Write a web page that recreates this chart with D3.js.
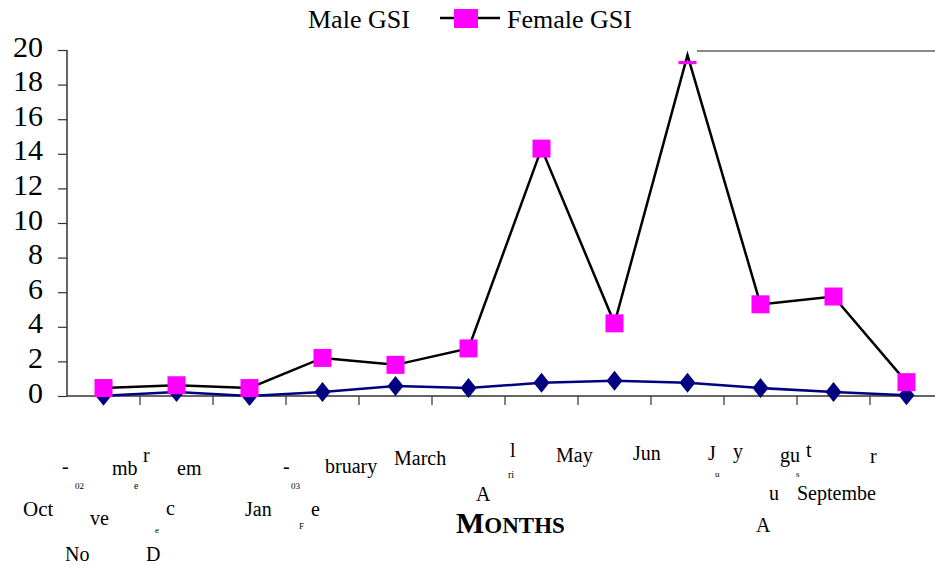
<!DOCTYPE html>
<html>
<head>
<meta charset="utf-8">
<script src="https://cdn.jsdelivr.net/npm/d3@7"></script>
<style>
  body { margin: 0; background: #fff; }
  svg text { font-family: "Liberation Serif", "Times New Roman", serif; fill: #000; }
</style>
</head>
<body>
<svg width="935" height="565"></svg>
<script>
const months = ['Oct-02', 'Nov', 'Dec', 'Jan-03', 'Feb', 'March', 'April', 'May', 'June', 'July', 'August', 'September'];
const maleGSI = [0.02, 0.23, 0.0, 0.23, 0.58, 0.46, 0.77, 0.88, 0.77, 0.46, 0.23, 0.05];
const femaleGSI = [0.46, 0.62, 0.46, 2.2, 1.8, 2.75, 14.3, 4.2, 19.7, 5.3, 5.75, 0.8];
const yTicks = [0, 2, 4, 6, 8, 10, 12, 14, 16, 18, 20];

// the month labels come out broken into pieces in the original, keep them that way
const labelBits = [
  ['-', 62, 473, 20], ['02', 75, 489, 9], ['mb', 112, 475, 20], ['r', 143, 462, 20], ['e', 134, 489, 10],
  ['em', 177, 475, 20], ['-', 283, 473, 20], ['03', 291, 489, 9],
  ['Oct', 23, 516, 21], ['ve', 90, 525, 20], ['e', 155, 533, 9], ['c', 166, 515, 20],
  ['Jan', 245, 516, 20], ['F', 299, 529, 9], ['e', 311, 516, 20], ['No', 65, 561, 20], ['D', 146, 561, 20],
  ['bruary', 325, 473, 20], ['March', 394, 465, 20], ['l', 510, 457, 20], ['ri', 508, 478, 10],
  ['May', 556, 462, 20], ['A', 476, 501, 20],
  ['Jun', 633, 460, 20], ['J', 708, 460, 20], ['u', 715, 477, 9], ['y', 733, 458, 20],
  ['gu', 780, 462, 20], ['t', 806, 457, 20], ['s', 796, 477, 9], ['r', 870, 463, 20],
  ['u', 769, 500, 20], ['Septembe', 797, 500, 20], ['A', 756, 532, 20]
];

const svg = d3.select('svg');
const margin = { left: 67, top: 50, bottom: 396 };

const x = d3.scaleBand().domain(months).range([margin.left, margin.left + 12 * 73]);
const y = d3.scaleLinear().domain([0, 20]).range([margin.bottom, margin.top]);
const cx = d => x(d) + x.bandwidth() / 2;

// plot area top border (only part of it shows)
svg.append('line')
  .attr('x1', 697).attr('x2', 935).attr('y1', y(20) + 1).attr('y2', y(20) + 1)
  .attr('stroke', '#888').attr('stroke-width', 2);

// y axis
const yAxis = svg.append('g')
  .attr('transform', `translate(${margin.left},0)`)
  .call(d3.axisLeft(y).tickValues(yTicks).tickSize(9).tickPadding(15))
  .attr('font-family', '"Liberation Serif", serif');
yAxis.select('.domain').attr('stroke', '#333').attr('stroke-width', 1.5).attr('d', `M0,${y(20)}V${y(0)}`);
yAxis.selectAll('.tick line').attr('stroke', '#333').attr('stroke-width', 1.2);
yAxis.selectAll('.tick text')
  .attr('font-size', 30).attr('dy', '0.2em');

// x axis with ticks between categories
const xAxis = svg.append('g').attr('transform', `translate(0,${margin.bottom})`);
xAxis.append('line')
  .attr('x1', margin.left).attr('x2', 935)
  .attr('stroke', '#333').attr('stroke-width', 1.5);
xAxis.selectAll('.xt')
  .data(months)
  .join('line')
  .attr('x1', d => x(d) + x.bandwidth()).attr('x2', d => x(d) + x.bandwidth())
  .attr('y1', 0).attr('y2', 9)
  .attr('stroke', '#333').attr('stroke-width', 1.2);

const line = d3.line().x((d, i) => cx(months[i])).y(d => y(d));

// male series
svg.append('path')
  .datum(maleGSI)
  .attr('d', line)
  .attr('fill', 'none').attr('stroke', '#000080').attr('stroke-width', 2.5);

svg.selectAll('.male')
  .data(maleGSI)
  .join('path')
  .attr('class', 'male')
  .attr('transform', (d, i) => `translate(${cx(months[i])},${y(d)})`)
  .attr('d', 'M0,-10L8,0L0,10L-8,0Z')
  .attr('fill', '#000080');

// female series
svg.append('path')
  .datum(femaleGSI)
  .attr('d', line)
  .attr('fill', 'none').attr('stroke', '#000').attr('stroke-width', 2.5);

svg.append('clipPath').attr('id', 'plotClip')
  .append('rect').attr('x', 0).attr('y', 61).attr('width', 935).attr('height', 400);

svg.append('g').attr('clip-path', 'url(#plotClip)')
  .selectAll('rect')
  .data(femaleGSI)
  .join('rect')
  .attr('x', (d, i) => cx(months[i]) - 9)
  .attr('y', d => y(d) - 9)
  .attr('width', 18).attr('height', 18)
  .attr('fill', '#ff00ff');

// legend
const legend = svg.append('g');
legend.append('text').attr('x', 308).attr('y', 28).attr('font-size', 26).text('Male GSI');
legend.append('line').attr('x1', 440).attr('x2', 500).attr('y1', 18).attr('y2', 18)
  .attr('stroke', '#000').attr('stroke-width', 2.5);
legend.append('rect').attr('x', 454).attr('y', 9).attr('width', 24).attr('height', 19).attr('fill', '#ff00ff');
legend.append('text').attr('x', 507).attr('y', 28).attr('font-size', 26).text('Female GSI');

// month label fragments
svg.append('g').selectAll('text')
  .data(labelBits)
  .join('text')
  .attr('x', d => d[1]).attr('y', d => d[2])
  .attr('font-size', d => d[3])
  .text(d => d[0]);

// axis title in small caps
const title = svg.append('text')
  .attr('x', 456).attr('y', 533)
  .attr('font-weight', 'bold');
title.append('tspan').attr('font-size', 30).text('M');
title.append('tspan').attr('font-size', 23).text('ONTHS');
</script>
</body>
</html>
